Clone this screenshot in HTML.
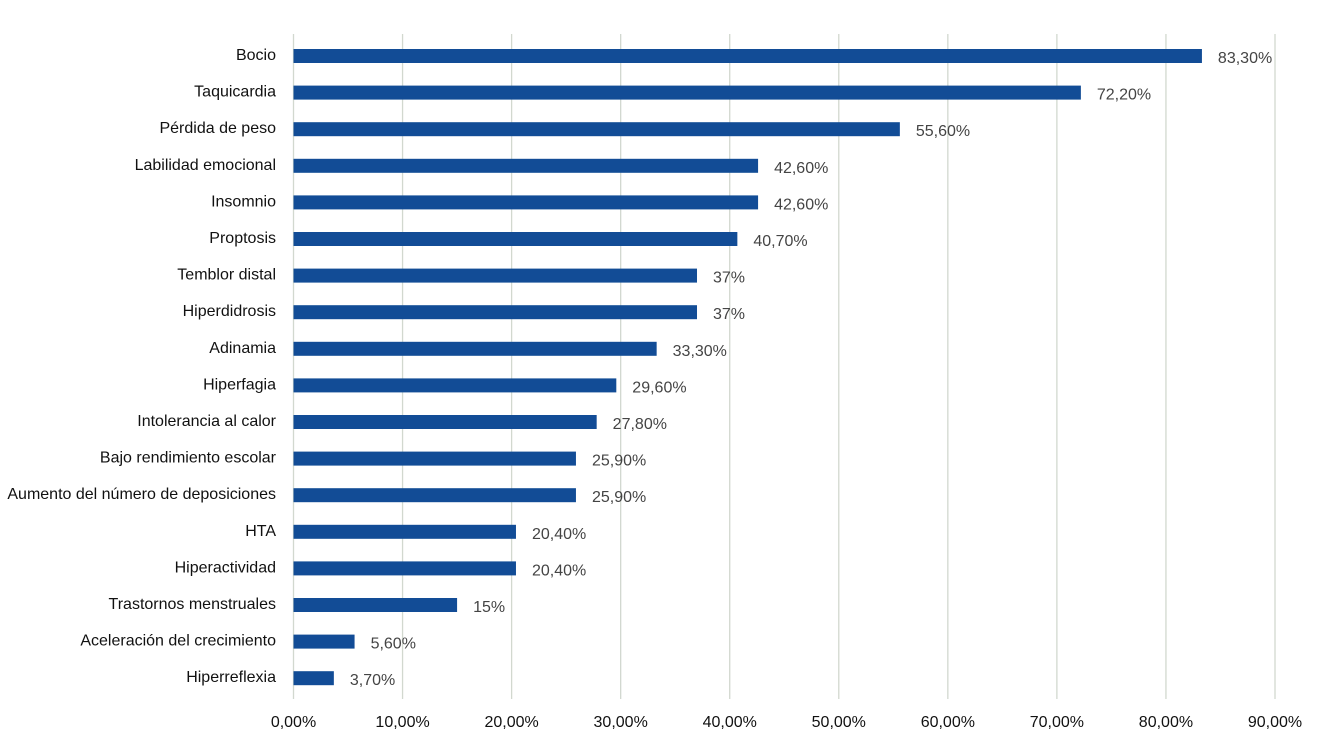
<!DOCTYPE html>
<html><head><meta charset="utf-8"><style>
body{margin:0;background:#fff;}
svg{display:block;font-family:"Liberation Sans",Arial,sans-serif;}
</style></head><body>
<svg id="chart" width="1324" height="739" viewBox="0 0 1324 739">
<g id="grid"></g><g id="bars"></g><g id="labels"></g>
</svg>
<script>
const categories=["Bocio","Taquicardia","Pérdida de peso","Labilidad emocional","Insomnio","Proptosis","Temblor distal","Hiperdidrosis","Adinamia","Hiperfagia","Intolerancia al calor","Bajo rendimiento escolar","Aumento del número de deposiciones","HTA","Hiperactividad","Trastornos menstruales","Aceleración del crecimiento","Hiperreflexia"];
const values=[83.3,72.2,55.6,42.6,42.6,40.7,37,37,33.3,29.6,27.8,25.9,25.9,20.4,20.4,15,5.6,3.7];
const valueLabels=["83,30%","72,20%","55,60%","42,60%","42,60%","40,70%","37%","37%","33,30%","29,60%","27,80%","25,90%","25,90%","20,40%","20,40%","15%","5,60%","3,70%"];
const ticks=[0,10,20,30,40,50,60,70,80,90];
const tickLabels=["0,00%","10,00%","20,00%","30,00%","40,00%","50,00%","60,00%","70,00%","80,00%","90,00%"];
const NS="http://www.w3.org/2000/svg";
const x=v=>293.5+v*(1275-293.5)/90;
const y=i=>56+i*36.6;
function mk(t,a,p){const e=document.createElementNS(NS,t);for(const k in a)e.setAttribute(k,a[k]);p.appendChild(e);return e;}
const g=document.getElementById('grid'),b=document.getElementById('bars'),l=document.getElementById('labels');
ticks.forEach((t,i)=>{
 const ln=mk('line',{x1:x(t),x2:x(t),y1:34,y2:699,stroke:'#d2d8cf','stroke-width':1.3},g);
 
 
 const tx=mk('text',{x:x(t),y:727,'text-anchor':'middle','font-size':16,fill:'#111'},l);
 tx.textContent=tickLabels[i];
 
 
});
categories.forEach((c,i)=>{
 const r=mk('rect',{x:x(0),y:y(i)-7,width:x(values[i])-x(0),height:14,fill:'#124c96'},b);
 
 
 const ct=mk('text',{x:276,y:y(i)+4,'text-anchor':'end','font-size':16,fill:'#111'},l);
 ct.textContent=c;
 
 
 const vt=mk('text',{x:x(values[i])+16,y:y(i)+7,'font-size':16,fill:'#444'},l);
 vt.textContent=valueLabels[i];
 
 
});
</script>
</body></html>
